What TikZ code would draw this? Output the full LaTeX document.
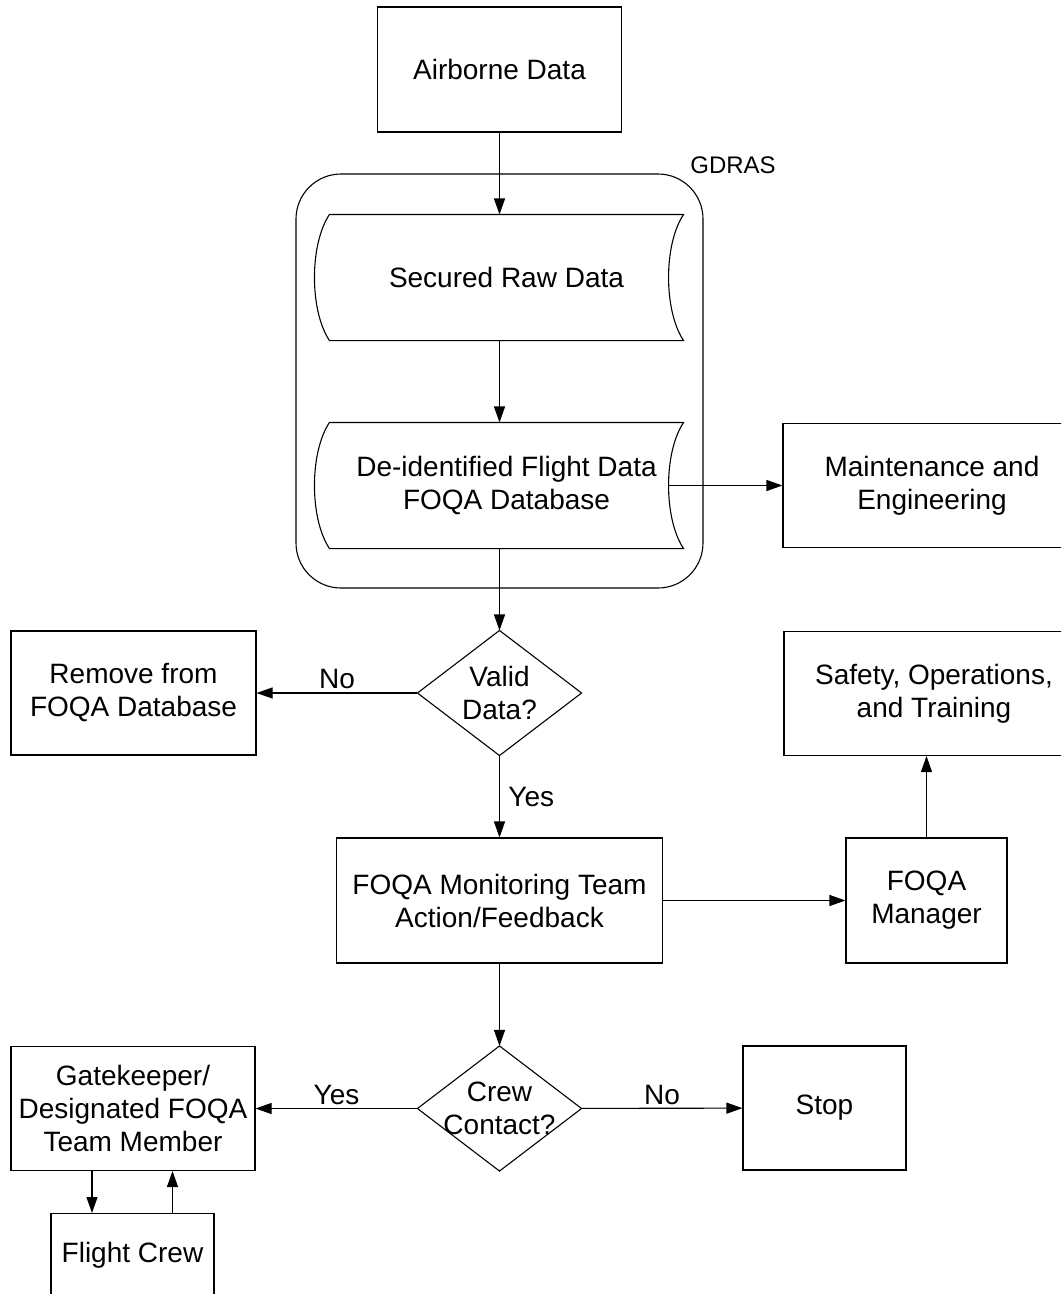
\documentclass[tikz,border=0pt]{standalone}
\usepackage{fontspec}
\setmainfont{Liberation Sans}
\usepackage{tikz}
\usetikzlibrary{arrows.meta, positioning}

\newcommand\fsize{\fontsize{28}{33}\selectfont}
\newcommand\fsmall{\fontsize{24}{28}\selectfont}

\begin{document}
\begin{tikzpicture}[
    x=1pt, y=-1pt,
    line width=1.1pt,
    every node/.style={font=\fsize},
    box/.style={draw, align=center, inner sep=0pt, minimum height=124pt},
    store/.style={align=center, inner sep=0pt, minimum width=353pt, minimum height=125pt},
    choice/.style={align=center, inner sep=0pt, minimum width=163pt, minimum height=124pt},
    arr/.style={-{Triangle[length=16pt,width=11pt]}},
  ]
  \useasboundingbox (0,0) rectangle (1061,1294);
  \clip (0,0) rectangle (1061,1294);

  % GDRAS frame
  \node[draw, rounded corners=45pt, minimum width=407pt, minimum height=414pt] (gdras) at (499.5,381) {};
  \node[font=\fsmall] (gdraslbl) at (733,165) {GDRAS};

  \node[box, minimum width=244pt, minimum height=125pt] (air) at (499.5,69.5) {Airborne Data};
  \node[store] (raw) at (506.5,277.5) {Secured Raw Data};
  \node[store] (deid) at (506.5,485.5) {De-identified Flight Data\\FOQA Database};
  \foreach \n in {raw,deid}
    \draw (\n.south west) .. controls +(-20,-30) and +(-20,30) .. (\n.north west)
      -- (\n.north east) .. controls +(-20,30) and +(-20,-30) .. (\n.south east)
      -- cycle;

  \node[box, minimum width=298pt] (maint) at (932,485.5) {Maintenance and\\Engineering};
  \node[choice] (valid) at (499.5,693) {Valid\\Data?};
  \node[box, minimum width=245pt] (remove) at (133.5,693) {Remove from\\FOQA Database};
  \node[box, minimum width=300pt] (safety) at (934,693.5) {Safety, Operations,\\and Training};
  \node[box, minimum width=326pt, minimum height=125pt] (monitor) at (499.5,900.5) {FOQA Monitoring Team\\Action/Feedback};
  \node[box, minimum width=161pt, minimum height=125pt] (manager) at (926.5,900.5) {FOQA\\Manager};
  \node[choice] (contact) at (499.5,1108.5) {Crew\\Contact?};
  \node[box, minimum width=163pt] (stop) at (824.5,1108) {Stop};
  \node[box, minimum width=244pt] (gate) at (133,1108.5) {Gatekeeper/\\Designated FOQA\\Team Member};
  \node[box, anchor=north, minimum width=163pt, minimum height=0pt, inner ysep=10pt,
    text height=39pt, text depth=70pt] (fcrew) at (132.5,1213) {Flight Crew};

  % decisions
  \foreach \n in {valid,contact}
    \draw (\n.north) -- (\n.east) -- (\n.south) -- (\n.west) -- cycle;

  \draw[arr] (air) -- (air |- raw.north);
  \draw[arr] (air |- raw.south) -- (air |- deid.north);
  \draw[arr] (air |- deid.south) -- (valid);
  \draw[arr] ([xshift=-15pt]deid.east) -- (maint);
  \draw[arr] (valid) -- node[above] (no1) {No} (remove);
  \draw[arr] (valid) -- node[right, xshift=5pt] (yes1) {Yes} (monitor);
  \draw[arr] (monitor) -- (manager);
  \draw[arr] (manager) -- (manager |- safety.south);
  \draw[arr] (monitor) -- (contact);
  \draw[arr] (contact) -- node[above] (yes2) {Yes} (gate);
  \draw[arr] (contact) -- node[above] (no2) {No} (stop);
  \draw[arr] ([xshift=-41pt]gate.south) -- ([xshift=-41pt]gate.south |- fcrew.north);
  \draw[arr] ([xshift=40pt]fcrew.north) -- ([xshift=40pt]fcrew.north |- gate.south);
\end{tikzpicture}
\end{document}
